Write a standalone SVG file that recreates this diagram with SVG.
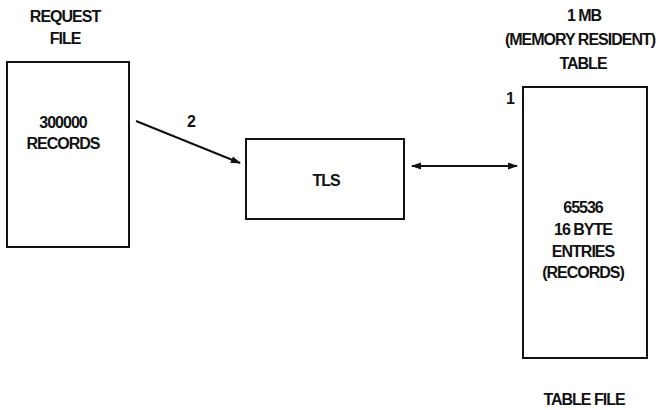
<svg xmlns="http://www.w3.org/2000/svg" width="661" height="410" viewBox="0 0 661 410">
<defs>
<style>
.box{fill:#fff;stroke:#111;stroke-width:2}
.t{font-family:"Liberation Sans",Arial,sans-serif;font-weight:bold;font-size:16px;letter-spacing:-1px;fill:#111;text-anchor:middle}
.ln{stroke:#111;stroke-width:2;fill:none}
</style>
<marker id="ah" viewBox="0 0 10 10" refX="9" refY="5" markerWidth="5" markerHeight="5" orient="auto-start-reverse" markerUnits="strokeWidth">
<path d="M0,1.5 L10,5 L0,8.5 z" fill="#111"/>
</marker>
</defs>
<rect width="661" height="410" fill="#fff"/>
<g id="request-file">
<text class="t" x="65" y="22">REQUEST</text>
<text class="t" x="65" y="44">FILE</text>
<rect class="box" x="7" y="62" width="122" height="185"/>
<text class="t" x="63" y="128">300000</text>
<text class="t" x="63" y="149">RECORDS</text>
</g>
<g id="tls">
<rect class="box" x="246" y="139" width="158" height="80"/>
<text class="t" x="326" y="186">TLS</text>
</g>
<g id="table-file">
<text class="t" x="584" y="21">1 MB</text>
<text class="t" x="580" y="45">(MEMORY RESIDENT)</text>
<text class="t" x="583" y="69">TABLE</text>
<text class="t" x="510" y="104">1</text>
<rect class="box" x="523" y="87" width="124" height="271"/>
<text class="t" x="583" y="213">65536</text>
<text class="t" x="583" y="235">16 BYTE</text>
<text class="t" x="583" y="257">ENTRIES</text>
<text class="t" x="583" y="278">(RECORDS)</text>
<text class="t" x="584" y="405">TABLE FILE</text>
</g>
<g id="connectors">
<line class="ln" x1="136" y1="121" x2="240" y2="163" marker-end="url(#ah)"/>
<text class="t" x="191" y="127">2</text>
<line class="ln" x1="412" y1="166" x2="517" y2="166" marker-start="url(#ah)" marker-end="url(#ah)"/>
</g>
</svg>
